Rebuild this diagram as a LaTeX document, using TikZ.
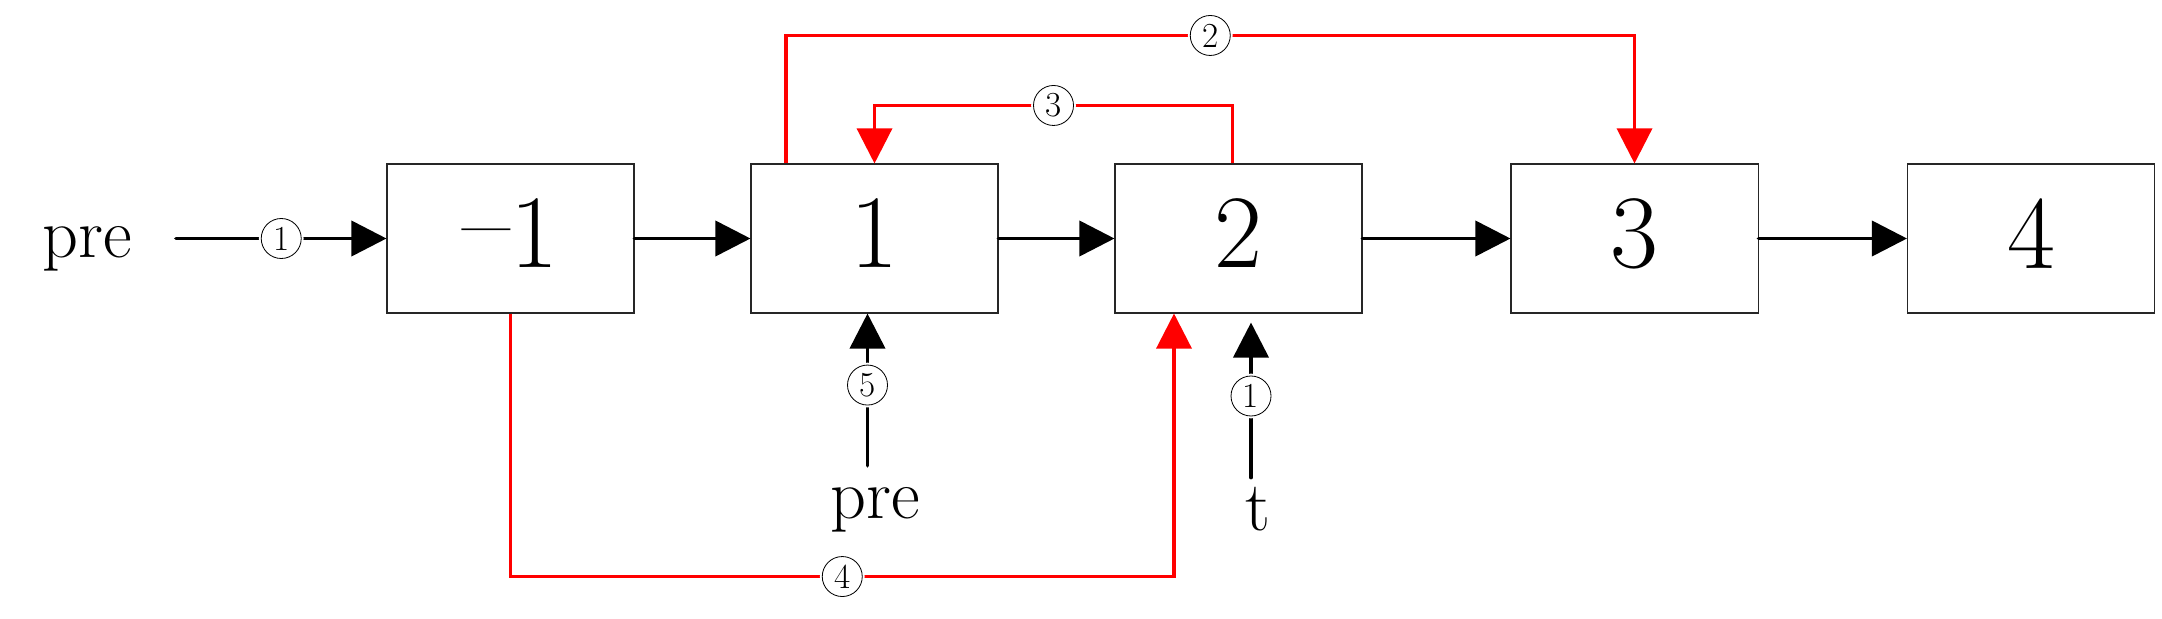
\documentclass[tikz,border=0pt]{standalone}
\usepackage{fontspec}
\usetikzlibrary{arrows.meta,calc}
\begin{document}
\begin{tikzpicture}[x=0.03cm,y=-0.03cm,
 box/.style={draw=black!85,line width=0.9pt,minimum width=7.41cm,minimum height=4.47cm,inner sep=0pt,text depth=8.5pt,font=\fontsize{89}{89}\selectfont},
 txt/.style={inner sep=0pt,anchor=base,font=\fontsize{60}{60}\selectfont},
 lbl/.style={circle,draw=black,text=black,line width=0.7pt,fill=white,minimum size=1.2cm,inner sep=0pt,font=\fontsize{30}{30}\selectfont,preaction={draw=white,line width=4pt}},
 arr/.style={line width=3.2pt,line cap=round,-{Triangle[length=30pt,width=30pt]}},
 rarr/.style={red,line width=2.8pt,-{Triangle[length=30pt,width=30pt]}}]
\useasboundingbox (0,0) rectangle (2162,619);

\node[box] (bm1) at (510.5,238.5) {\raisebox{0.1em}{\textendash}1};
\node[box] (b1) at (874.5,238.5) {1};
\node[box] (b2) at (1238.5,238.5) {2};
\node[box] (b3) at (1634.5,238.5) {3};
\node[box] (b4) at (2031,238.5) {4};

\node[txt] (pre1) at (87.5,257) {pre};
\node[txt] (pre2) at (875,518) {pre};
\node[txt] (t) at (1258,530) {t};

% black arrows
\coordinate (ps) at ($(pre1.base)+(88.5,0)$);
\draw[arr] (ps |- bm1.west) -- node[lbl]{1} (bm1.west);
\draw[arr] (bm1.east) -- (b1.west);
\draw[arr] (b1.east) -- (b2.west);
\draw[arr] (b2.east) -- (b3.west);
\draw[arr] (b3.east) -- (b4.west);

\draw[arr] ($(pre2.north)+(-7.5,-21)$) -- node[lbl,pos=0.53]{5} ($(b1.south)+(-7,0)$);
\draw[arr] ($(t.north)+(-7,-9)$) -- node[lbl,pos=0.526]{1} ($(b2.south)+(12.5,9)$);

% red arrows
\draw[rarr] ($(b1.north)+(-88.5,0)$) -- ++(0,-128) -| node[lbl,pos=0.25]{2} (b3.north);
\draw[rarr] ($(b2.north)+(-6,0)$) -- ++(0,-58) -| node[lbl,pos=0.25]{3} (b1.north);
\draw[rarr] (bm1.south) -- ++(0,263) -| node[lbl,pos=0.25]{4} ($(b2.south)+(-64.5,0)$);
\end{tikzpicture}
\end{document}
